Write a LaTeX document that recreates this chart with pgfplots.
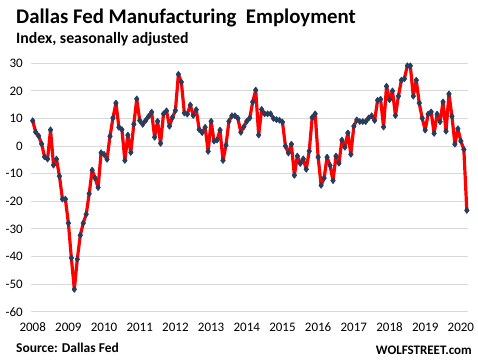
\documentclass[border=0pt]{standalone}
\usepackage{pgfplots}
\pgfplotsset{compat=1.18}
\usepackage{fontspec}
\setmainfont{Carlito}
\definecolor{mk}{HTML}{263E5E}
\definecolor{gridc}{HTML}{D9D9D9}
\begin{document}
\begin{tikzpicture}
\path[use as bounding box] (-31pt,-50.3pt) rectangle (447pt,311.7pt);
\begin{axis}[
  at={(0pt,0pt)}, anchor=south west,
  scale only axis, width=437pt, height=248.4pt,
  xmin=-0.57, xmax=146.4, ymin=-60, ymax=30,
  axis line style={draw=none},
  major tick length=0pt,
  ytick={-60,-50,...,30},
  xtick={0,12,...,144},
  xticklabels={2008,2009,2010,2011,2012,2013,2014,2015,2016,2017,2018,2019,2020},
  ymajorgrids, grid style={gridc, line width=1pt},
  /pgf/number format/assume math mode=true,
  tick label style={font=\fontsize{13}{15}\selectfont, inner sep=0pt},
  yticklabel style={anchor=east, xshift=-8pt},
  xticklabel style={anchor=base, yshift=-20pt},
  clip=false,
]
\addplot[red, line width=3.2pt, line join=round, mark=diamond*, mark size=3pt,
  mark options={draw=mk, fill=mk, line width=0.7pt}] table[x=i,y=v] {
i v
0 9.2
1 5.1
2 3.7
3 0.8
4 -3.9
5 -4.7
6 5.9
7 -6.9
8 -4.7
9 -10.9
10 -19.2
11 -19.2
12 -27.9
13 -40.5
14 -51.9
15 -41.0
16 -32.3
17 -27.9
18 -24.7
19 -17.2
20 -8.7
21 -11.6
22 -15.0
23 -2.4
24 -3.0
25 -4.8
26 3.6
27 10.2
28 15.6
29 6.8
30 6.0
31 -5.2
32 4.0
33 -2.3
34 7.9
35 17.1
36 9.3
37 7.9
38 9.3
39 10.8
40 12.3
41 3.2
42 9.0
43 1.0
44 11.7
45 12.8
46 7.2
47 10.4
48 12.9
49 26.0
50 23.2
51 12.0
52 11.6
53 14.9
54 11.1
55 13.2
56 6.0
57 4.9
58 6.8
59 -1.9
60 9.0
61 1.8
62 2.2
63 5.8
64 -5.2
65 0.3
66 9.0
67 11.0
68 11.0
69 10.1
70 5.0
71 7.0
72 9.0
73 10.2
74 16.0
75 20.3
76 4.0
77 13.3
78 11.7
79 11.7
80 11.7
81 10.0
82 9.6
83 9.4
84 8.7
85 0.0
86 -2.5
87 0.7
88 -10.6
89 -3.6
90 -6.3
91 -4.6
92 -8.4
93 -1.8
94 10.4
95 11.7
96 -4.0
97 -14.2
98 -11.6
99 -4.0
100 -7.0
101 -12.5
102 -3.6
103 -6.2
104 2.2
105 -0.4
106 4.8
107 -3.0
108 7.2
109 9.5
110 8.9
111 8.9
112 8.9
113 10.2
114 11.0
115 9.3
116 16.6
117 17.0
118 6.9
119 21.7
120 16.8
121 20.0
122 11.1
123 18.1
124 23.9
125 24.4
126 29.1
127 29.1
128 18.1
129 23.9
130 15.6
131 10.1
132 5.8
133 11.6
134 12.4
135 4.6
136 11.6
137 8.8
138 16.0
139 5.4
140 18.9
141 10.8
142 0.7
143 6.3
144 1.8
145 -1.2
146 -23.3
};
\end{axis}
\node[anchor=base west, inner sep=0pt, font=\bfseries\fontsize{20.8}{24}\selectfont] at (-15pt,287.7pt) {Dallas Fed Manufacturing\ \ Employment};
\node[anchor=base west, inner sep=0pt, font=\bfseries\fontsize{15.8}{18}\selectfont] at (-15pt,267.7pt) {Index, seasonally adjusted};
\node[anchor=base west, inner sep=0pt, font=\bfseries\fontsize{13.5}{15}\selectfont] at (-15pt,-40.3pt) {Source: Dallas Fed};
\node[anchor=base east, inner sep=0pt, font=\bfseries\fontsize{13}{15}\selectfont] at (441pt,-42.3pt) {WOLFSTREET.com};
\end{tikzpicture}
\end{document}
